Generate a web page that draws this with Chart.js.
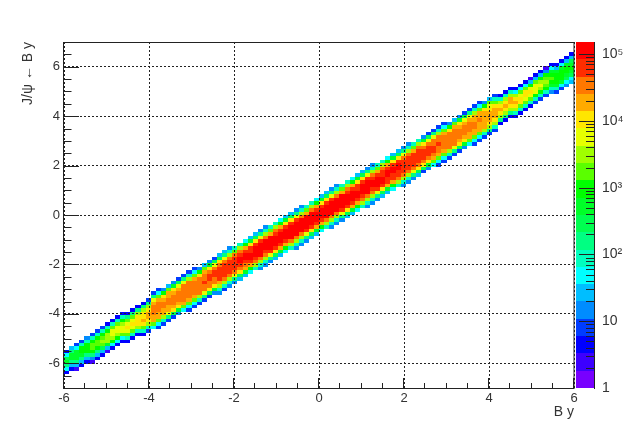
<!DOCTYPE html>
<html>
<head>
<meta charset="utf-8">
<title>J/psi y vs B y</title>
<script src="https://cdn.jsdelivr.net/npm/chart.js@4"></script>
<style>
body { margin: 0; background: #fff; }
canvas { position: absolute; left: 0; top: 0; }
</style>
</head>
<body>
<canvas id="mainChart" width="638" height="432"></canvas>
<canvas id="paletteChart" width="638" height="432"></canvas>
<script>
// Histogram binning: 100 x 100 bins
const xRange = [-6, 6];
const yRange = [-7, 7];
const binWidthX = 0.12;
const binWidthY = 0.14;

// Tick values
const xMajorTicks = [-6, -4, -2, 0, 2, 4, 6];
const yMajorTicks = [-6, -4, -2, 0, 2, 4, 6];
const xMinorTicks = [-5.5, -5, -4.5, -3.5, -3, -2.5, -1.5, -1, -0.5, 0.5, 1, 1.5, 2.5, 3, 3.5, 4.5, 5, 5.5];
const yMinorTicks = [-6.5, -5.5, -5, -4.5, -3.5, -3, -2.5, -1.5, -1, -0.5, 0.5, 1, 1.5, 2.5, 3, 3.5, 4.5, 5, 5.5, 6.5];
const zMajorTicks = [1, 10, 100, 1000, 10000, 100000];
const zMinorSteps = [2, 3, 4, 5, 6, 7, 8, 9];
const zTickLabels = { 1: '1', 10: '10', 100: '10\u00b2', 1000: '10\u00b3', 10000: '10\u2074', 100000: '10\u2075' };

// Contour edges of the colour axis, and the colour of each of the 20 levels
const levelEdges = [1, 1.816, 3.3, 5.99, 10.9, 19.8, 35.9, 65.2, 118, 215, 390, 708, 1286, 2335, 4240, 7700, 13985, 25400, 46100, 83700, 152000];
const levelColors = [
    '#7800ff', '#3c00ff', '#0000ff', '#003cff', '#008cff', '#00beff', '#00ffff', '#00ffbe', '#00ff82', '#00ff50',
    '#00ff28', '#00ff00', '#5aff00', '#a0ff00', '#e6ff00', '#ffe600', '#ffaa00', '#ff7800', '#ff2d00', '#ff0000'
];

// First filled y bin of each x bin
const columnStart = [
    4, 5, 5, 6, 7, 7, 8, 9, 10, 11,
    12, 13, 13, 14, 15, 15, 16, 17, 17, 18,
    19, 20, 21, 22, 22, 23, 24, 25, 26, 27,
    27, 28, 29, 30, 31, 32, 33, 34, 34, 35,
    36, 37, 38, 39, 40, 40, 41, 42, 43, 44,
    45, 46, 46, 47, 48, 49, 50, 51, 52, 52,
    53, 54, 55, 56, 57, 58, 58, 59, 60, 61,
    62, 63, 64, 64, 65, 66, 67, 68, 69, 70,
    70, 71, 72, 73, 74, 76, 77, 78, 78, 79,
    80, 81, 82, 83, 84, 85, 85, 86, 87, 88
];

// Colour level of the filled y bins of each x bin, bottom to top (base 20 digits)
const columnLevels = [
    '268a962', '258aa85', '158aaa63', '258abb73', '258bbb74', '148bccb73', '258bccb73', '259cdcb73', '15adddb72', '26bdeec72',
    '26bdeec72', '26ceedb72', '27cefec82', '27cefec82', '27dfffd82', '27cfgffd82', '37dfggfd83', '6cgghhhge83', '36cgghhhgc63', '37dgghhgfb4',
    '38egghhggc5', '39fghhhgfa4', '4afghhhge93', '6cghhhhhe83', '36cghhhhhd73', '36cghhhhgc63', '37dhhhhhfb4', '38ehhihhgc5', '39fhhiihfa4', '4afhhiihe93',
    '47dgiiiihf95', '37dhiiiihe85', '47dhiiiihd74', '48ehiiiihc7', '59fhijjihd7', '5aghijjigb6', '6bgijjiifa5', '7dhijjjif95', '47dhjjjjie84', '47dhijjjhd74',
    '48eijjjjgc7', '59fijjjihd7', '5agijjjigb6', '6bgijjjifa5', '7dhjjjjif95', '47dhjjjjie84', '47dhjjjjhd74', '48eijjjjgc7', '59fijjjjhd7', '5agijjjigb6',
    '6bgijjjifa5', '7dhjjjjif95', '47dhjjjjie84', '47dhjjjjhd74', '48eijjjjgc7', '59fijjjihd7', '5agijjjigb6', '6bgijjiifa5', '7dhijjjif95', '47dhjjjjie84',
    '47dhijjihd74', '48eijjjigc7', '59fijjiihd7', '5agiijjigb6', '6bgiijjifa5', '7dhiijjif95', '47dhiiiihe84', '47dhiiiihd74', '48ehiiiigc7', '59fhiiiihd7',
    '39fhiiihfa4', '4afhiiihe93', '6cghiihhe83', '36cghhihhd73', '36cghhhhgc63', '37dhhhhhfb4', '38ehhhhhgc5', '39fghhhgfa4', '4afghhhge93', '6cgghhhge83',
    '36cgghhggd73', '36cggghggc63', '37dgggggfb4', '38dfgggfec5', '37dfgggfc73', '28dfgfd72', '28dfgfd72', '28dfggd72', '27dfgfd62', '27cffec62',
    '27ceffc62', '27cefeb51', '37beeec52', '37bdedb52', '37bcdcb41', '47abcba62', '37abbba52', '36abbba62', '469abba52', '569aba952'
];

const fontFamily = '"Liberation Sans", Arial, sans-serif';
const textColor = '#333';
const lineColor = '#222';

// One dataset per cell position in a column, drawn as floating bars
function buildCellDatasets() {
    const layers = [];
    columnLevels.forEach((levels, col) => {
        const xCenter = xRange[0] + (col + 0.5) * binWidthX;
        for (let k = 0; k < levels.length; k++) {
            if (!layers[k]) layers[k] = [];
            const row = columnStart[col] + k;
            layers[k].push({
                x: xCenter,
                y: [yRange[0] + row * binWidthY, yRange[0] + (row + 1) * binWidthY],
                level: parseInt(levels[k], 20)
            });
        }
    });
    return layers.map((cells) => ({
        data: cells,
        backgroundColor: (ctx) => levelColors[ctx.raw.level],
        borderWidth: 0,
        inflateAmount: 0,
        grouped: false,
        barPercentage: 1,
        categoryPercentage: 1
    }));
}

// Round to whole pixels, ignoring float noise so shared edges round the same way
function snapPixel(v) {
    return Math.round(Math.round(v * 1000) / 1000);
}

// Snap bars to whole pixels so that neighbouring cells have no seams
const snapBars = {
    id: 'snapBars',
    beforeDatasetsDraw(chart) {
        chart.data.datasets.forEach((ds, i) => {
            chart.getDatasetMeta(i).data.forEach((bar) => {
                const left = snapPixel(bar.x - bar.width / 2);
                const right = snapPixel(bar.x + bar.width / 2);
                bar.x = (left + right) / 2;
                bar.width = right - left;
                bar.y = snapPixel(bar.y);
                bar.base = snapPixel(bar.base);
            });
        });
    }
};

// ROOT style frame and inward ticks
const frameAndTicks = {
    id: 'frameAndTicks',
    afterDraw(chart) {
        const { ctx, chartArea: area, scales } = chart;
        ctx.save();
        ctx.strokeStyle = lineColor;
        ctx.lineWidth = 1;
        ctx.strokeRect(area.left - 0.5, area.top + 0.5, area.right - area.left + 0.5, area.bottom - area.top);
        ctx.beginPath();
        const xTick = (value, len) => {
            const px = Math.round(scales.x.getPixelForValue(value)) - 0.5;
            ctx.moveTo(px, area.bottom);
            ctx.lineTo(px, area.bottom - len);
        };
        const yTick = (value, len) => {
            const py = Math.round(scales.y.getPixelForValue(value)) + 0.5;
            ctx.moveTo(area.left, py);
            ctx.lineTo(area.left + len, py);
        };
        xMajorTicks.forEach((v) => xTick(v, 10));
        xMinorTicks.forEach((v) => xTick(v, 5));
        yMajorTicks.forEach((v) => yTick(v, 15));
        yMinorTicks.forEach((v) => yTick(v, 7.5));
        ctx.stroke();
        ctx.restore();
    }
};

const paletteTicks = {
    id: 'paletteTicks',
    afterDraw(chart) {
        const { ctx, chartArea: area, scales } = chart;
        ctx.save();
        ctx.strokeStyle = lineColor;
        ctx.lineWidth = 1;
        ctx.beginPath();
        ctx.moveTo(area.right + 0.5, area.top);
        ctx.lineTo(area.right + 0.5, area.bottom + 1);
        const zTick = (value, len) => {
            const py = Math.round(scales.y.getPixelForValue(value)) + 0.5;
            ctx.moveTo(area.right, py);
            ctx.lineTo(area.right - len, py);
        };
        zMajorTicks.forEach((decade) => {
            if (decade > 1) zTick(decade, 15);
            zMinorSteps.forEach((step) => {
                if (decade * step < scales.y.max) zTick(decade * step, 8);
            });
        });
        ctx.stroke();
        ctx.restore();
    }
};

new Chart(document.getElementById('mainChart').getContext('2d'), {
    type: 'bar',
    data: { datasets: buildCellDatasets() },
    plugins: [snapBars, frameAndTicks],
    options: {
        responsive: false,
        animation: false,
        events: [],
        layout: { padding: { top: 42, right: 64, bottom: 0, left: 0 } },
        plugins: { legend: { display: false }, tooltip: { enabled: false } },
        scales: {
            x: {
                type: 'linear',
                min: xRange[0],
                max: xRange[1],
                offset: false,
                afterBuildTicks: (scale) => { scale.ticks = xMajorTicks.map((v) => ({ value: v })); },
                afterFit: (scale) => { scale.height = 44; },
                ticks: { color: textColor, font: { family: fontFamily, size: 13 }, padding: 3, maxRotation: 0, callback: (v) => String(v) },
                grid: { z: 1, offset: false, color: '#222', drawTicks: false },
                border: { display: false, dash: [2, 2] },
                title: { display: true, text: 'B y', align: 'end', color: textColor, font: { family: fontFamily, size: 14 }, padding: { top: 3, bottom: 11 } }
            },
            y: {
                min: yRange[0],
                max: yRange[1],
                afterBuildTicks: (scale) => { scale.ticks = yMajorTicks.map((v) => ({ value: v })); },
                afterFit: (scale) => { scale.width = 64; },
                ticks: { color: textColor, font: { family: fontFamily, size: 13 }, padding: 4, callback: (v) => String(v) },
                grid: { z: 1, color: '#222', drawTicks: false },
                border: { display: false, dash: [2, 2] },
                title: { display: true, text: 'J/\u03c8 \u2190 B y', align: 'end', color: textColor, font: { family: fontFamily, size: 14 }, padding: { top: 20, bottom: 0 } }
            }
        }
    }
});

new Chart(document.getElementById('paletteChart').getContext('2d'), {
    type: 'bar',
    data: {
        labels: ['z'],
        datasets: levelColors.map((color, k) => ({
            data: [[levelEdges[k], levelEdges[k + 1]]],
            backgroundColor: color,
            borderWidth: 0,
            inflateAmount: 0,
            grouped: false,
            barPercentage: 1,
            categoryPercentage: 1
        }))
    },
    plugins: [snapBars, paletteTicks],
    options: {
        responsive: false,
        animation: false,
        events: [],
        layout: { padding: { top: 42, right: 0, bottom: 44, left: 576 } },
        plugins: { legend: { display: false }, tooltip: { enabled: false } },
        scales: {
            x: { display: false },
            y: {
                type: 'logarithmic',
                position: 'right',
                min: levelEdges[0],
                max: levelEdges[levelEdges.length - 1],
                afterBuildTicks: (scale) => { scale.ticks = zMajorTicks.map((v) => ({ value: v })); },
                afterFit: (scale) => { scale.width = 44; },
                ticks: { color: textColor, autoSkip: false, font: { family: fontFamily, size: 14 }, padding: 8, callback: (v) => zTickLabels[v] },
                grid: { display: false, drawTicks: false },
                border: { display: false }
            }
        }
    }
});
</script>
</body>
</html>
